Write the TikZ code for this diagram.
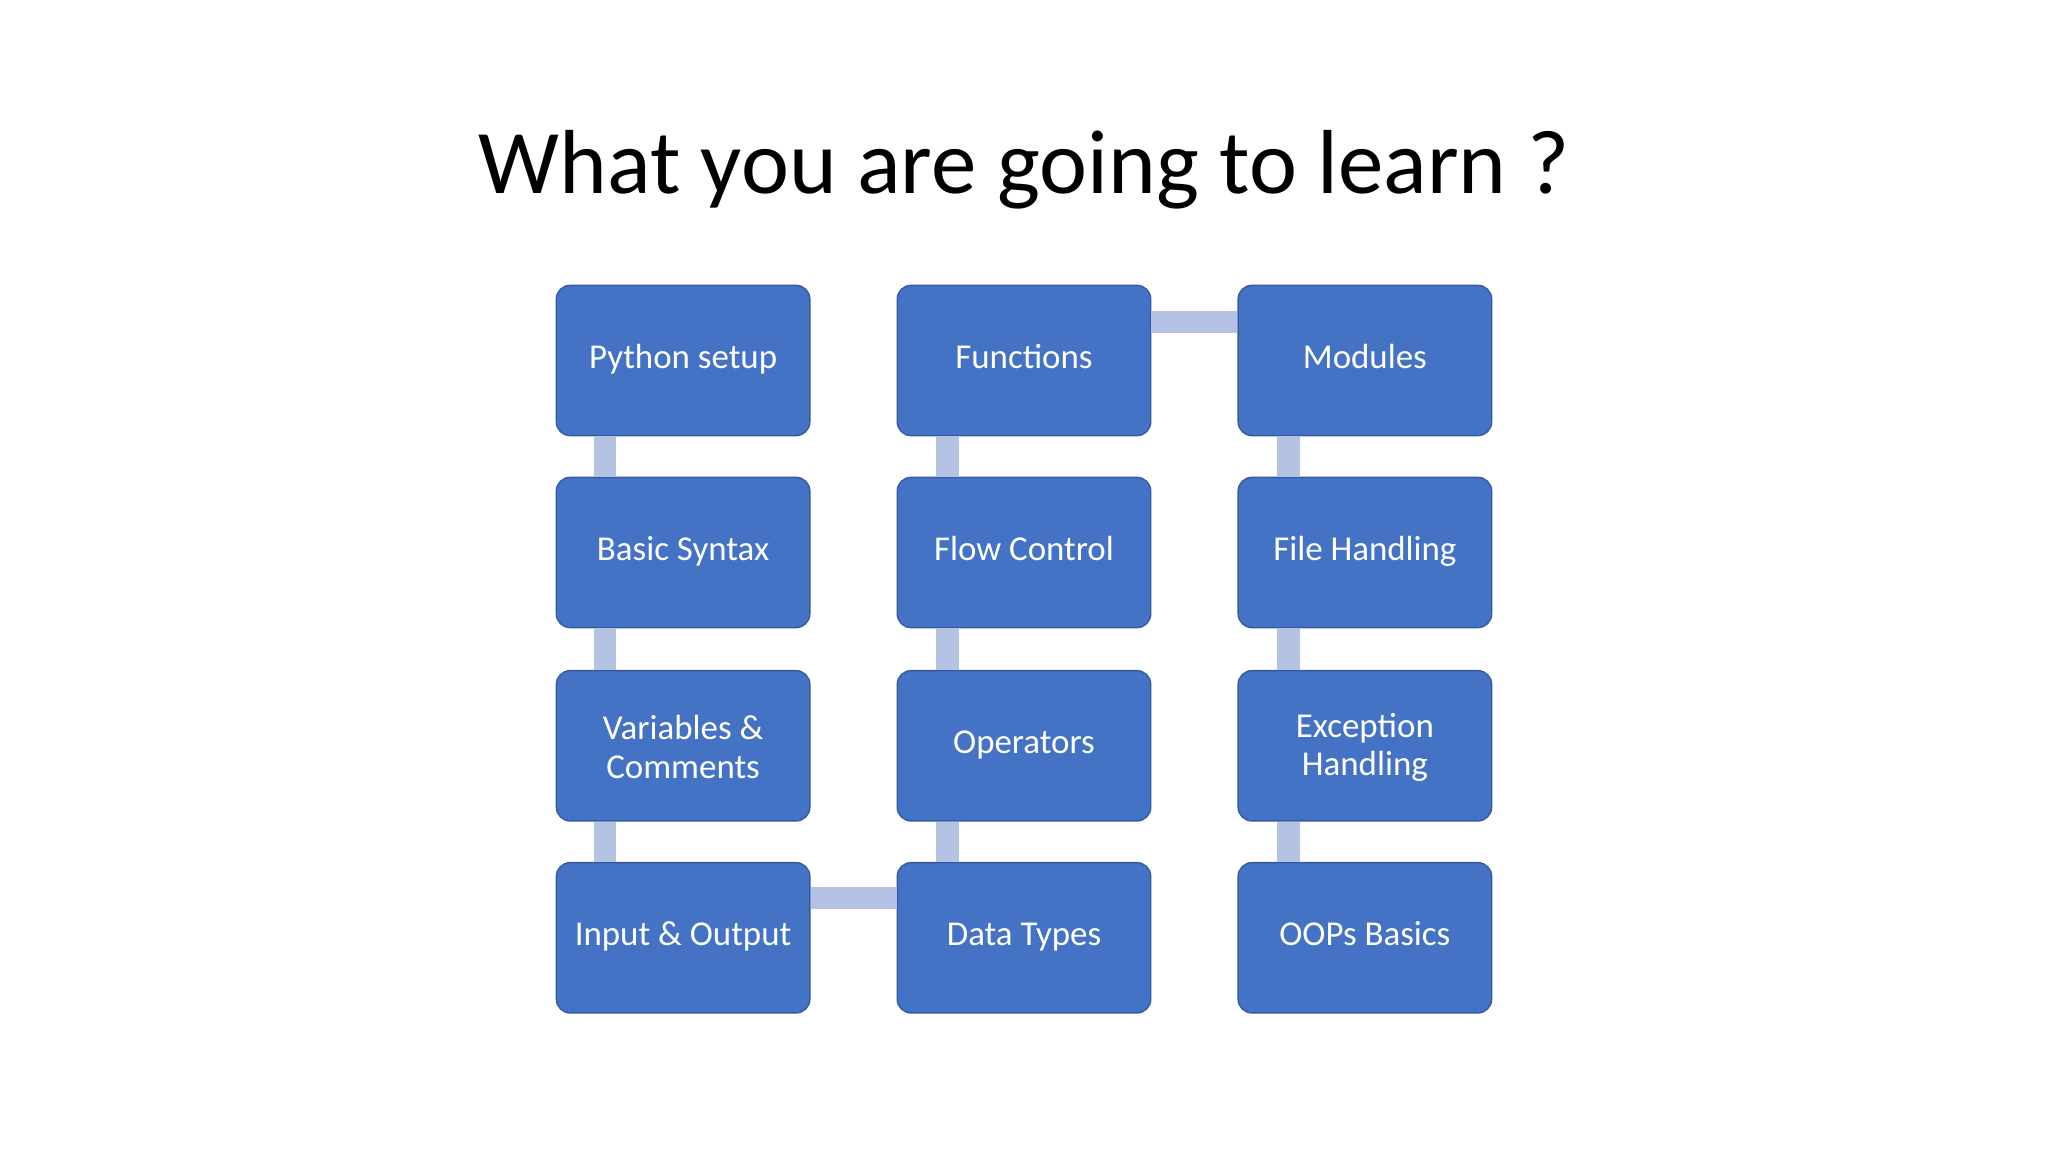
\documentclass[tikz,border=0pt]{standalone}
\usepackage{fontspec}
\setmainfont{Carlito}
\definecolor{boxblue}{HTML}{4472C4}
\definecolor{linkblue}{HTML}{B4C2E4}
\begin{document}
\begin{tikzpicture}[x=0.01cm,y=-0.01cm,
  topic/.style={fill=boxblue,draw=boxblue!80!black,line width=0.3pt,rounded corners=3pt,minimum width=1.94cm,minimum height=1.15cm,text=white,font=\fontsize{7.6}{8.4}\selectfont,align=center,inner sep=1pt},
  link/.style={fill=linkblue,draw=none}]
\useasboundingbox (0,0) rectangle (1568,882);
\node[font=\fontsize{19.8}{24}\selectfont] (title) at (784,130) {What you are going to learn ?};
\foreach \n/\x/\y/\t in {a/523/276/Python setup,b/523/423/Basic Syntax,c/523/571/{Variables \&\\Comments},d/523/718/Input \& Output,
 e/784/276/Functions,f/784/423/Flow Control,g/784/571/Operators,h/784/718/Data Types,
 i/1045/276/Modules,j/1045/423/File Handling,k/1045/571/{Exception\\Handling},l/1045/718/OOPs Basics}
 \node[topic] (\n) at (\x,\y) {\strut\t};
\foreach \p/\q in {a/b,b/c,c/d} \fill[link] ([xshift=-0.51cm]\p.south) rectangle ([xshift=-0.68cm]\q.north);
\foreach \p/\q in {e/f,f/g,g/h,i/j,j/k,k/l} \fill[link] ([xshift=-0.50cm]\p.south) rectangle ([xshift=-0.67cm]\q.north);
\fill[link] ([yshift=0.39cm]d.east) rectangle ([yshift=0.22cm]h.west);
\fill[link] ([yshift=0.38cm]e.east) rectangle ([yshift=0.21cm]i.west);
\end{tikzpicture}
\end{document}
